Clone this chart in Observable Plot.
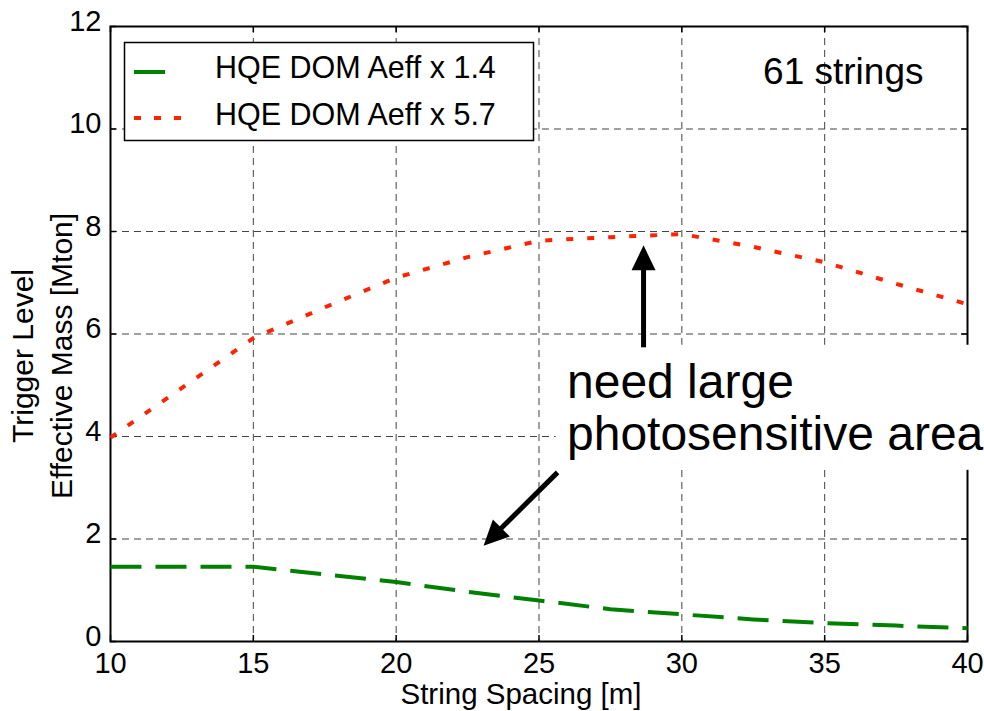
<!DOCTYPE html>
<html><head><meta charset="utf-8">
<script src="https://cdn.jsdelivr.net/npm/d3@7"></script>
<script src="https://cdn.jsdelivr.net/npm/@observablehq/plot@0.6"></script>
<style>
body{margin:0;background:#fff}
#wrap{position:relative;width:984px;height:711px;font-family:"Liberation Sans",Arial,sans-serif}
#legend{position:absolute;left:0;top:0;pointer-events:none}
</style></head><body><div id="wrap"></div>
<script>
// ---- data ----
const spacing   = [10, 12.5, 15, 17.5, 20, 22.5, 25, 27.5, 30, 32.5, 35, 37.5, 40];
const massAeff14 = [1.46, 1.46, 1.46, 1.31, 1.16, 0.97, 0.80, 0.63, 0.53, 0.43, 0.36, 0.31, 0.26];
const massAeff57 = [3.98, 4.95, 5.92, 6.52, 7.10, 7.50, 7.82, 7.89, 7.95, 7.70, 7.40, 6.98, 6.58];
const seriesNames = ["HQE DOM Aeff x 1.4", "HQE DOM Aeff x 5.7"];
const xTicks = [10, 15, 20, 25, 30, 35, 40];
const yTicks = [0, 2, 4, 6, 8, 10, 12];
const xLabel = ["String Spacing [m]"];
const yLabel = ["Trigger Level\nEffective Mass [Mton]"];
const countLabel = ["61 strings"];
const noteText = ["need large\nphotosensitive area"];
const noteAt = [{x: 25.98, y: 5.47}];
const noteBox = [{x1: 25.6, x2: 40.6, y1: 3.34, y2: 5.78}];
const arrowTail = [{x: 28.66, y: 5.74}, {x: 25.65, y: 3.30}];
const arrowTip  = [{x: 28.66, y: 7.73}, {x: 23.06, y: 1.87}];

// ---- layout ----
const W = 984, H = 711, ml = 110, mr = 17, mt = 26, mb = 70;
const plotW = W - ml - mr, plotH = H - mt - mb;
const xDomain = [10, 40], yDomain = [0, 12];
const sx = d3.scaleLinear(xDomain, [ml, W - mr]);
const sy = d3.scaleLinear(yDomain, [H - mb, mt]);
const font = '"Liberation Sans", Arial, Helvetica, sans-serif';

const lowRows = spacing.map((x, i) => ({x, y: massAeff14[i]}));
const highRows = spacing.map((x, i) => ({x, y: massAeff57[i]}));
const notes = noteText.map((t, i) => ({...noteAt[i], text: t}));

const heads = arrowTip.map((t, i) => {
  const a = arrowTail[i];
  const px1 = sx(a.x), py1 = sy(a.y), px2 = sx(t.x), py2 = sy(t.y);
  const L = Math.hypot(px2 - px1, py2 - py1);
  const ux = (px2 - px1) / L, uy = (py2 - py1) / L;
  return {
    x: t.x, y: t.y,
    angle: Math.atan2(ux, -uy) * 180 / Math.PI,
    x1: a.x, y1: a.y,
    x2: sx.invert(px2 - ux * 18), y2: sy.invert(py2 - uy * 18)
  };
});
const headSymbol = {draw(ctx) { ctx.moveTo(0, 0); ctx.lineTo(-12, 25); ctx.lineTo(12, 25); ctx.closePath(); }};

const gridStyle = {stroke: "#222", strokeOpacity: 0.85, strokeWidth: 1, strokeDasharray: "7,5"};

const chart = Plot.plot({
  width: W, height: H,
  marginLeft: ml, marginRight: mr, marginTop: mt, marginBottom: mb,
  x: {domain: xDomain},
  y: {domain: yDomain},
  style: {fontFamily: font, background: "white", color: "black", overflow: "visible"},
  marks: [
    Plot.gridX(xTicks.slice(1, -1), gridStyle),
    Plot.gridY(yTicks.slice(1, -1), gridStyle),
    Plot.frame({stroke: "black", strokeWidth: 2}),
    Plot.tickX(xTicks, {x: d => d, insetTop: plotH - 6, strokeWidth: 1.5}),
    Plot.tickX(xTicks, {x: d => d, insetBottom: plotH - 6, strokeWidth: 1.5}),
    Plot.tickY(yTicks, {y: d => d, insetRight: plotW - 6, strokeWidth: 1.5}),
    Plot.tickY(yTicks, {y: d => d, insetLeft: plotW - 6, strokeWidth: 1.5}),
    Plot.axisX({ticks: xTicks, tickSize: 0, tickPadding: 10.5, fontSize: 29, label: null}),
    Plot.axisY({ticks: yTicks, tickSize: 0, tickPadding: 9, fontSize: 29, dy: -5, label: null}),
    Plot.rect(noteBox, {x1: "x1", x2: "x2", y1: "y1", y2: "y2", fill: "white"}),
    Plot.line(lowRows, {x: "x", y: "y", stroke: "#008000", strokeWidth: 4, strokeDasharray: "31,14", strokeLinecap: "butt"}),
    Plot.line(highRows, {x: "x", y: "y", stroke: "#ff2200", strokeWidth: 4, strokeDasharray: "7,14", strokeLinecap: "butt"}),
    Plot.link(heads, {x1: "x1", y1: "y1", x2: "x2", y2: "y2", stroke: "black", strokeWidth: 5, strokeLinecap: "butt"}),
    Plot.dot(heads, {x: "x", y: "y", rotate: "angle", symbol: headSymbol, fill: "black", stroke: "none"}),
    Plot.text(notes, {x: "x", y: "y", text: "text", fontSize: 48, lineHeight: 1.085, textAnchor: "start", lineAnchor: "top", fill: "black"}),
    Plot.text(countLabel, {text: d => d, frameAnchor: "top-right", textAnchor: "end", lineAnchor: "top", fontSize: 37, dx: -44, dy: 31}),
    Plot.text(xLabel, {text: d => d, frameAnchor: "bottom", textAnchor: "middle", lineAnchor: "top", fontSize: 29.5, dx: -18, dy: 41.5}),
    Plot.text(yLabel, {text: d => d, frameAnchor: "left", rotate: -90, textAnchor: "middle", lineAnchor: "middle", lineHeight: 1.3, fontSize: 30, dx: -70, dy: 22})
  ]
});
document.getElementById("wrap").appendChild(chart);

// ---- legend overlay ----
const lg = d3.select("#wrap").append("svg").attr("id", "legend").attr("width", W).attr("height", H)
  .style("font-family", font);
lg.append("rect").attr("x", 124.5).attr("y", 42.5).attr("width", 409).attr("height", 98)
  .attr("fill", "white").attr("stroke", "black").attr("stroke-width", 1.5);
const legendStyles = [
  {color: "#008000", dash: null, x2: 165, y: 72, ty: 78},
  {color: "#ff2200", dash: "7,13", x2: 182, y: 118, ty: 125}
];
seriesNames.forEach((name, i) => {
  const s = legendStyles[i];
  lg.append("line").attr("x1", 134).attr("x2", s.x2).attr("y1", s.y).attr("y2", s.y)
    .attr("stroke", s.color).attr("stroke-width", 4).attr("stroke-dasharray", s.dash);
  lg.append("text").attr("x", 215).attr("y", s.ty).attr("font-size", 30.5).attr("fill", "black").text(name);
});
</script>
</body></html>
